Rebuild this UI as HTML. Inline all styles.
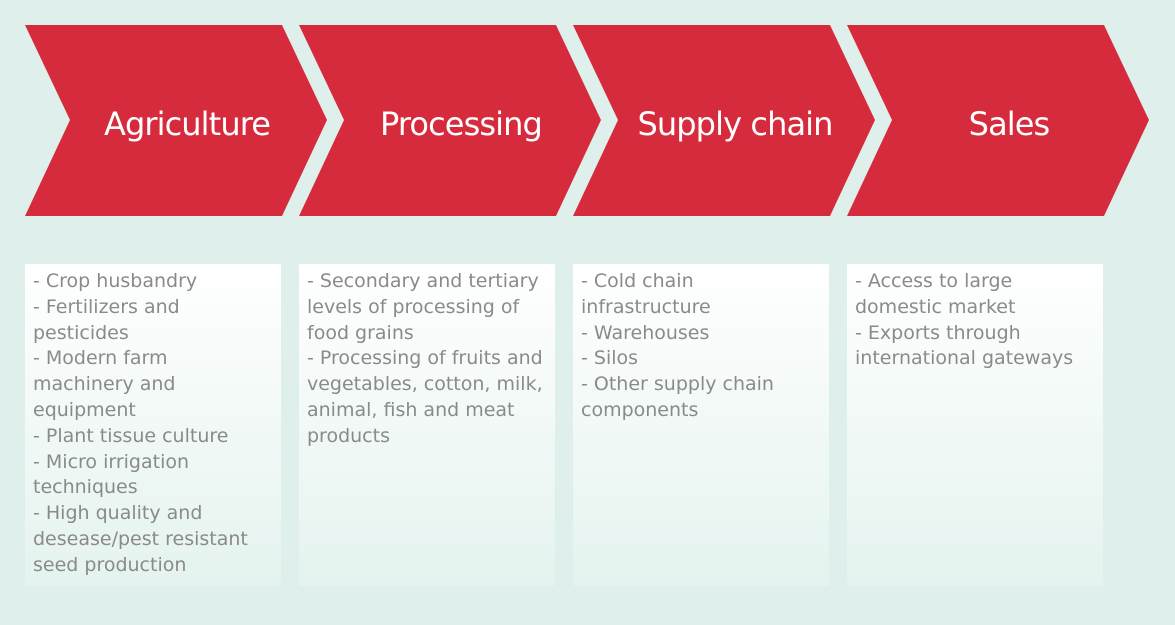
<!DOCTYPE html>
<html><head><style>
body{margin:0;width:1175px;height:625px;background:#dff0ec;position:relative;overflow:hidden;font-family:"DejaVu Sans","Liberation Sans",sans-serif}
svg{position:absolute;left:0;top:0}
.b{position:absolute;top:264px;width:256px;height:322px;background:linear-gradient(#ffffff,#e4f3ef);box-sizing:border-box;padding:5px 8px;color:#8a8a8a;font-size:19px;line-height:25.8px;letter-spacing:0}
.t{position:absolute;top:101px;width:302px;text-align:center;color:#fff;font-size:32px;letter-spacing:-0.9px;line-height:46px}
</style></head><body>
<svg width="1175" height="625">
<g fill="#d62b3c">
<polygon points="25,25 282,25 327,120 282,216 25,216 70,120"/>
<polygon points="299,25 556,25 601,120 556,216 299,216 344,120"/>
<polygon points="573,25 830,25 875,120 830,216 573,216 618,120"/>
<polygon points="847,25 1104,25 1149,120 1104,216 847,216 892,120"/>
</g></svg>
<div class="t" style="left:36px">Agriculture</div>
<div class="t" style="left:310px">Processing</div>
<div class="t" style="left:584px">Supply chain</div>
<div class="t" style="left:858px">Sales</div>
<div class="b" style="left:25px">- Crop husbandry<br>- Fertilizers and<br>pesticides<br>- Modern farm<br>machinery and<br>equipment<br>- Plant tissue culture<br>- Micro irrigation<br>techniques<br>- High quality and<br>desease/pest resistant<br>seed production</div>
<div class="b" style="left:299px">- Secondary and tertiary<br>levels of processing of<br>food grains<br>- Processing of fruits and<br>vegetables, cotton, milk,<br>animal, fish and meat<br>products</div>
<div class="b" style="left:573px">- Cold chain<br>infrastructure<br>- Warehouses<br>- Silos<br>- Other supply chain<br>components</div>
<div class="b" style="left:847px">- Access to large<br>domestic market<br>- Exports through<br>international gateways</div>
</body></html>
